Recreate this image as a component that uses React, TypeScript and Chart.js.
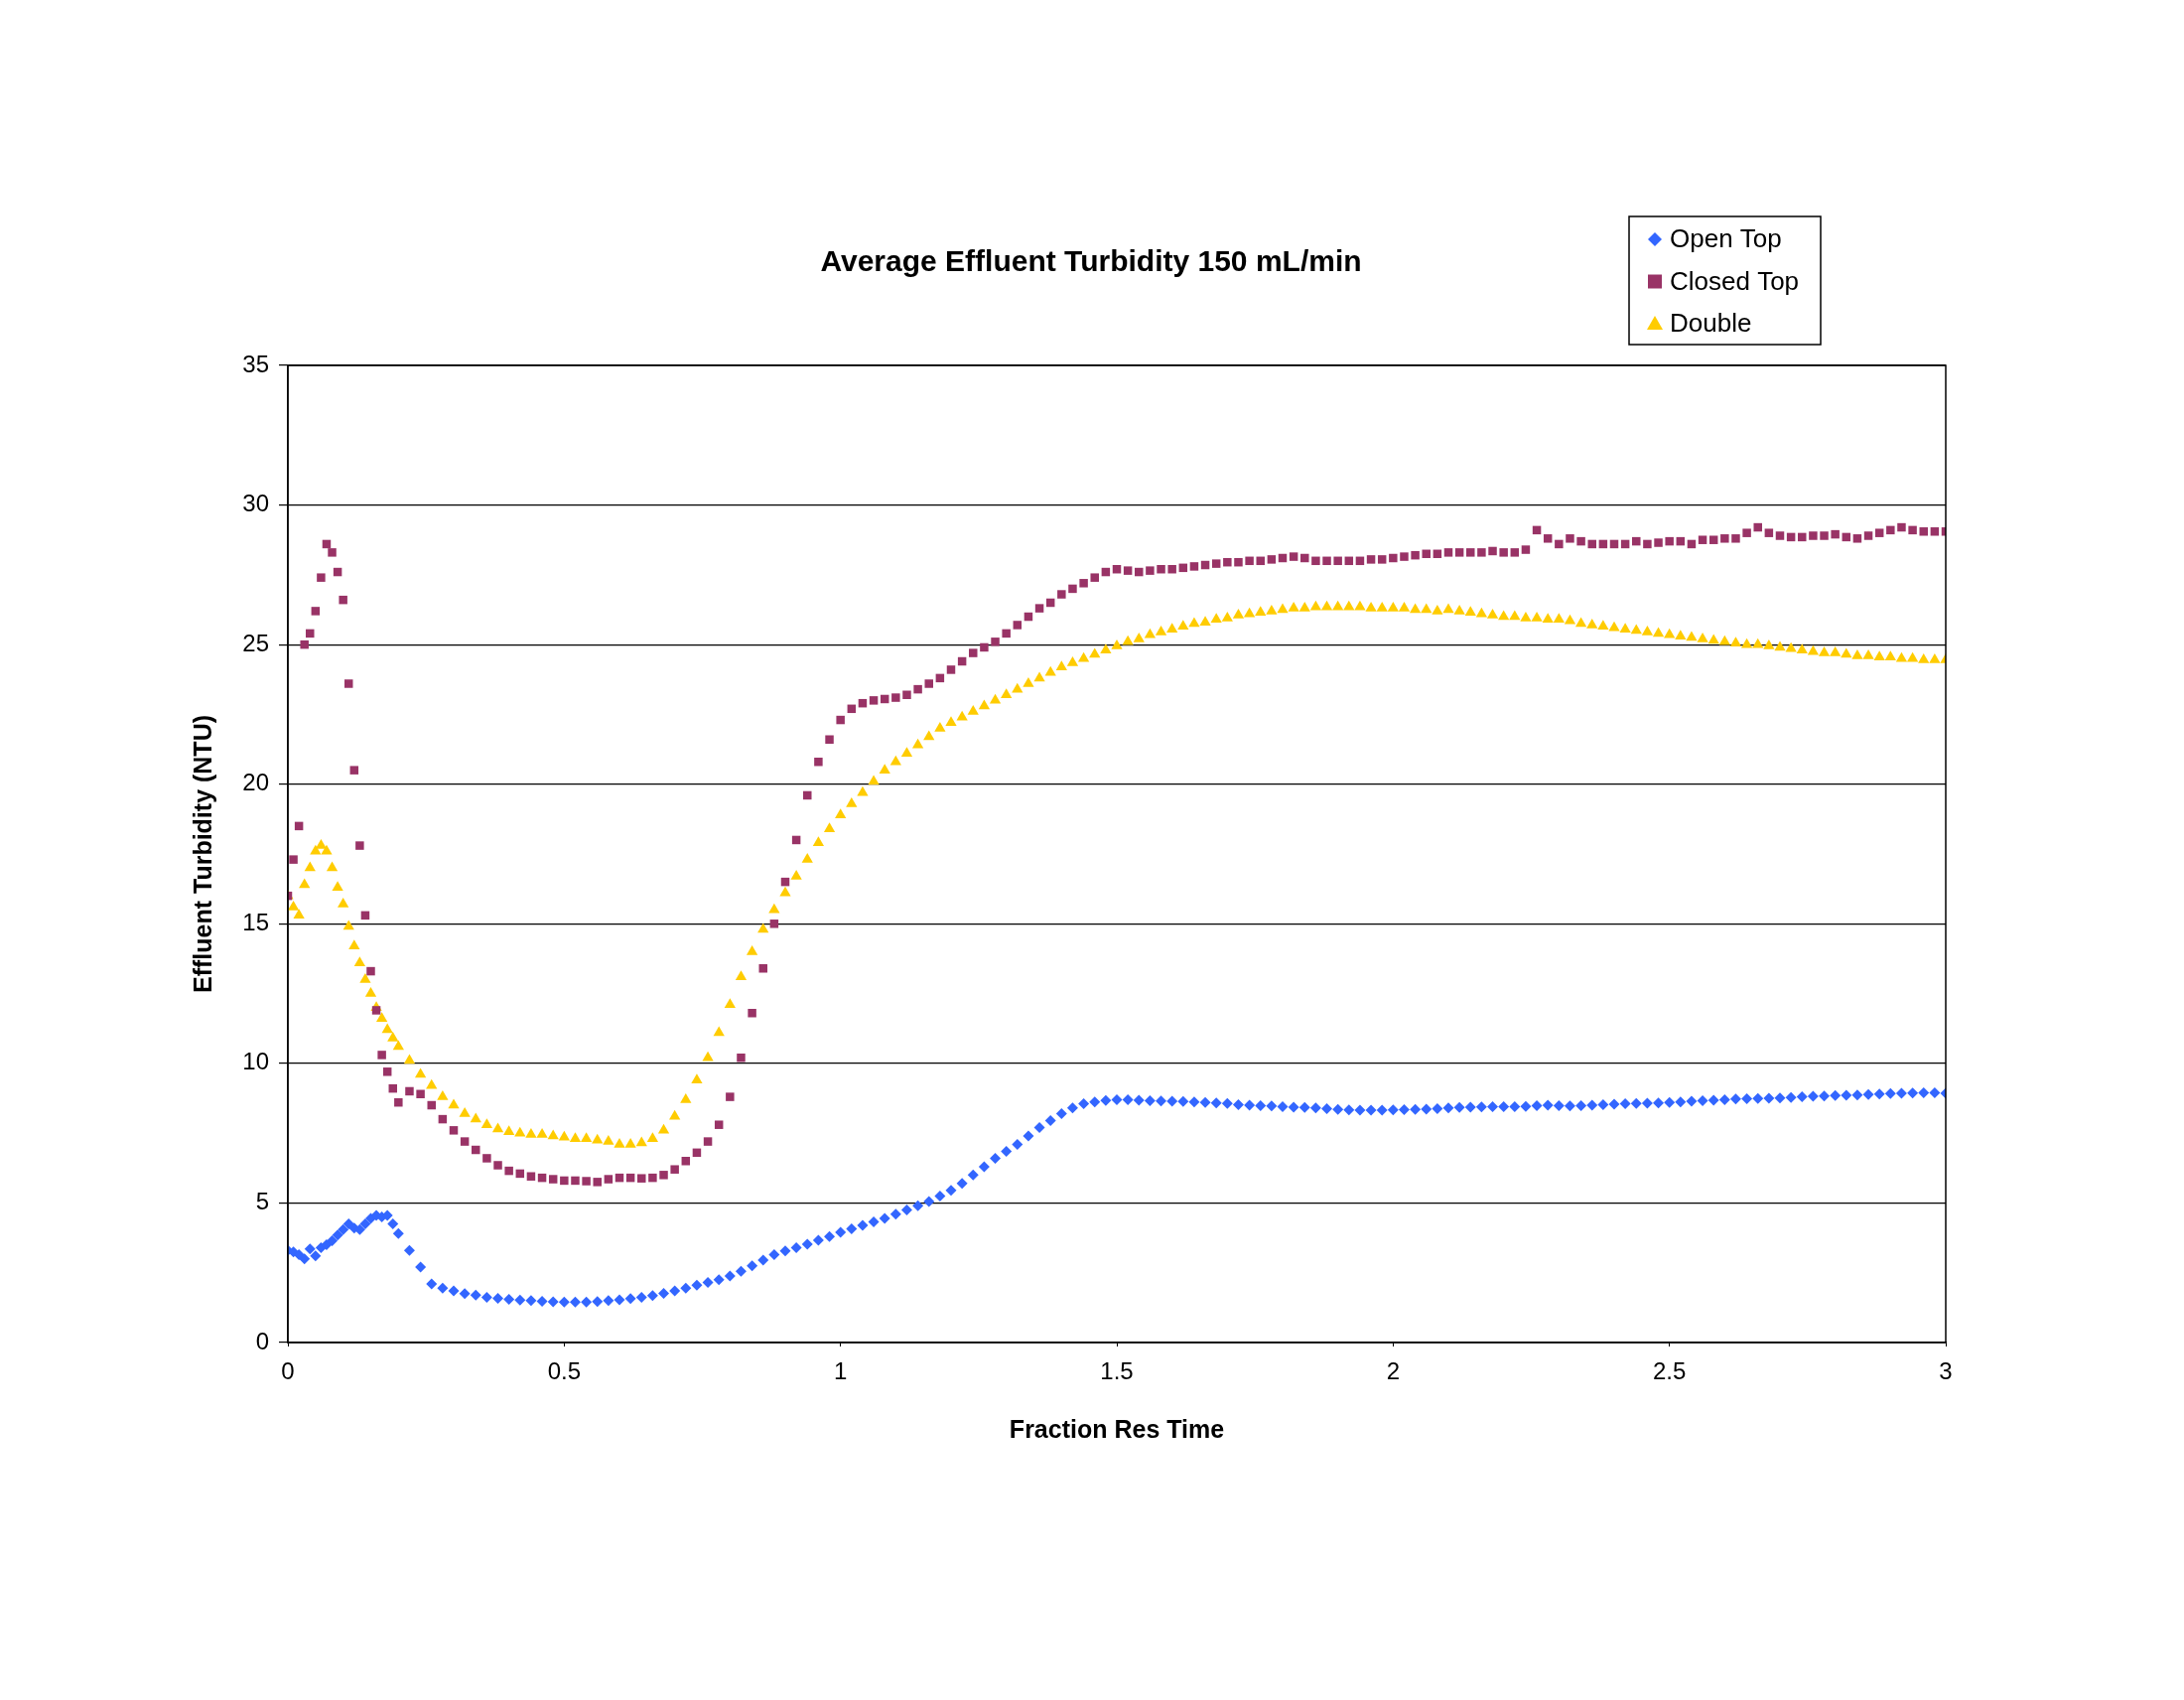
import React, { useEffect, useRef } from "react";
import { Chart, registerables } from "chart.js";
Chart.register(...registerables);

// x positions: 0..0.20 every 0.01, then every 0.02 to 3.00
const xEarly = [0,0.01,0.02,0.03,0.04,0.05,0.06,0.07,0.08,0.09,0.1,0.11,0.12,0.13,0.14,0.15,0.16,0.17,0.18,0.19,0.2];
const xLate: number[] = [];
for (let i = 11; i <= 150; i++) xLate.push(+(i * 0.02).toFixed(2));
const xValues = [...xEarly, ...xLate];

const openTop = [3.3,3.25,3.15,3.0,3.35,3.1,3.4,3.5,3.65,3.85,4.05,4.25,4.1,4.05,4.25,4.45,4.55,4.5,4.55,4.25,3.9,
3.3,2.7,2.1,1.95,1.85,1.75,1.7,1.62,1.58,1.55,
1.52,1.5,1.48,1.46,1.45,1.45,1.45,1.47,1.5,1.53,
1.57,1.62,1.68,1.76,1.85,1.95,2.05,2.15,2.25,2.38,
2.55,2.75,2.95,3.15,3.28,3.4,3.52,3.66,3.8,3.95,
4.07,4.2,4.32,4.45,4.6,4.75,4.9,5.05,5.25,5.45,
5.7,6.0,6.3,6.6,6.85,7.1,7.4,7.7,7.95,8.2,
8.4,8.55,8.62,8.67,8.7,8.7,8.68,8.66,8.65,8.64,
8.63,8.62,8.6,8.58,8.56,8.52,8.5,8.48,8.47,8.45,
8.43,8.42,8.4,8.38,8.35,8.33,8.32,8.32,8.32,8.33,
8.34,8.35,8.36,8.38,8.4,8.42,8.43,8.44,8.45,8.45,
8.45,8.46,8.48,8.5,8.48,8.47,8.48,8.5,8.52,8.54,
8.55,8.56,8.57,8.58,8.6,8.62,8.64,8.66,8.68,8.7,
8.72,8.73,8.74,8.75,8.76,8.78,8.8,8.82,8.83,8.85,
8.86,8.87,8.88,8.9,8.92,8.93,8.94,8.95,8.95,8.93];

const closedTop = [16.0,17.3,18.5,25.0,25.4,26.2,27.4,28.6,28.3,27.6,26.6,23.6,20.5,17.8,15.3,13.3,11.9,10.3,9.7,9.1,8.6,
9.0,8.9,8.5,8.0,7.6,7.2,6.9,6.6,6.35,6.15,
6.05,5.95,5.9,5.85,5.8,5.8,5.78,5.75,5.85,5.9,
5.9,5.88,5.9,6.0,6.2,6.5,6.8,7.2,7.8,8.8,
10.2,11.8,13.4,15.0,16.5,18.0,19.6,20.8,21.6,22.3,
22.7,22.9,23.0,23.05,23.1,23.2,23.4,23.6,23.8,24.1,
24.4,24.7,24.9,25.1,25.4,25.7,26.0,26.3,26.5,26.8,
27.0,27.2,27.4,27.6,27.7,27.65,27.6,27.65,27.7,27.7,
27.75,27.8,27.85,27.9,27.95,27.95,28.0,28.0,28.05,28.1,
28.15,28.1,28.0,28.0,28.0,28.0,28.0,28.05,28.05,28.1,
28.15,28.2,28.25,28.25,28.3,28.3,28.3,28.3,28.35,28.3,
28.3,28.4,29.1,28.8,28.6,28.8,28.7,28.6,28.6,28.6,
28.6,28.7,28.6,28.65,28.7,28.7,28.6,28.75,28.75,28.8,
28.8,29.0,29.2,29.0,28.9,28.85,28.85,28.9,28.9,28.95,
28.85,28.8,28.9,29.0,29.1,29.2,29.1,29.05,29.05,29.05];

const double = [16.0,15.6,15.3,16.4,17.0,17.6,17.8,17.6,17.0,16.3,15.7,14.9,14.2,13.6,13.0,12.5,12.0,11.6,11.2,10.9,10.6,
10.1,9.6,9.2,8.8,8.5,8.2,8.0,7.8,7.65,7.55,
7.5,7.45,7.45,7.4,7.35,7.3,7.3,7.25,7.2,7.1,
7.1,7.15,7.3,7.6,8.1,8.7,9.4,10.2,11.1,12.1,
13.1,14.0,14.8,15.5,16.1,16.7,17.3,17.9,18.4,18.9,
19.3,19.7,20.1,20.5,20.8,21.1,21.4,21.7,22.0,22.2,
22.4,22.6,22.8,23.0,23.2,23.4,23.6,23.8,24.0,24.2,
24.35,24.5,24.65,24.8,24.95,25.1,25.2,25.35,25.45,25.55,
25.65,25.75,25.8,25.9,25.95,26.05,26.1,26.15,26.2,26.25,
26.3,26.3,26.35,26.35,26.35,26.35,26.35,26.3,26.3,26.3,
26.3,26.25,26.25,26.2,26.25,26.2,26.15,26.1,26.05,26.0,
26.0,25.95,25.95,25.9,25.9,25.85,25.75,25.7,25.65,25.6,
25.55,25.5,25.45,25.4,25.35,25.3,25.25,25.2,25.15,25.1,
25.05,25.0,25.0,24.95,24.9,24.85,24.8,24.75,24.7,24.7,
24.65,24.6,24.6,24.55,24.55,24.5,24.5,24.45,24.45,24.45];

const seriesNames = ["Open Top", "Closed Top", "Double"];
const seriesColors = ["#3366FF", "#993366", "#FFCC00"];
const seriesShapes = ["rectRot", "rect", "triangle"];
const title = "Average Effluent Turbidity 150 mL/min";
const xTitle = "Fraction Res Time";
const yTitle = "Effluent Turbidity (NTU)";

const FONT = "'Liberation Sans', Arial, sans-serif";

export default function App() {
  const ref = useRef<HTMLCanvasElement>(null);
  useEffect(() => {
    const all = [openTop, closedTop, double];
    const radii = [5.5, 6, 6.5];
    const overlay = {
      id: "overlay",
      afterDraw(chart: any) {
        const ctx = chart.ctx;
        const a = chart.chartArea;
        ctx.save();
        ctx.strokeStyle = "#000";
        ctx.lineWidth = 1.5;
        ctx.strokeRect(a.left, a.top, a.right - a.left, a.bottom - a.top);
        ctx.fillStyle = "#000";
        ctx.textAlign = "center";
        ctx.textBaseline = "middle";
        ctx.font = `bold 30px ${FONT}`;
        ctx.fillText(title, 1099, 265);
        ctx.font = `bold 25px ${FONT}`;
        ctx.fillText(xTitle, (a.left + a.right) / 2, 1441);
        ctx.save();
        ctx.translate(206, (a.top + a.bottom) / 2);
        ctx.rotate(-Math.PI / 2);
        ctx.fillText(yTitle, 0, 0);
        ctx.restore();
        // legend
        ctx.lineWidth = 1.5;
        ctx.strokeRect(1641, 218, 193, 129);
        ctx.font = `26px ${FONT}`;
        ctx.textAlign = "left";
        seriesNames.forEach((n, i) => {
          const cy = 241 + i * 42.5;
          ctx.fillStyle = seriesColors[i];
          ctx.beginPath();
          const cx = 1667;
          if (i === 0) {
            ctx.moveTo(cx, cy - 7); ctx.lineTo(cx + 7, cy); ctx.lineTo(cx, cy + 7); ctx.lineTo(cx - 7, cy);
          } else if (i === 1) {
            ctx.rect(cx - 7, cy - 7, 14, 14);
          } else {
            ctx.moveTo(cx, cy - 8); ctx.lineTo(cx + 8, cy + 6); ctx.lineTo(cx - 8, cy + 6);
          }
          ctx.closePath();
          ctx.fill();
          ctx.fillStyle = "#000";
          ctx.fillText(n, 1682, cy + 1);
        });
        ctx.restore();
      },
    };
    const chart = new Chart(ref.current!, {
      type: "scatter",
      data: {
        datasets: all.map((arr, i) => ({
          label: seriesNames[i],
          data: arr.map((y, j) => ({ x: xValues[j], y })),
          backgroundColor: seriesColors[i],
          borderColor: seriesColors[i],
          borderWidth: 0,
          pointStyle: seriesShapes[i] as any,
          pointRadius: radii[i],
        })),
      },
      options: {
        animation: false,
        responsive: false,
        layout: { padding: { left: 0, top: 368, right: 240, bottom: 0 } },
        plugins: { legend: { display: false }, tooltip: { enabled: false }, title: { display: false } },
        scales: {
          x: {
            type: "linear",
            min: 0,
            max: 3,
            ticks: { stepSize: 0.5, color: "#000", font: { family: FONT, size: 24 }, padding: 12, callback: (v: any) => String(+v) },
            grid: { drawOnChartArea: false, color: "#000", tickLength: 4 },
            border: { color: "#000", width: 1.5 },
            afterFit: (s: any) => { s.height = 360; },
          },
          y: {
            min: 0,
            max: 35,
            ticks: { stepSize: 5, color: "#000", font: { family: FONT, size: 24 }, padding: 10 },
            grid: { color: "#000", lineWidth: 1.2, tickLength: 9 },
            border: { color: "#000", width: 1.5 },
            afterFit: (s: any) => { s.width = 290; },
          },
        },
      },
      plugins: [overlay],
    });
    return () => chart.destroy();
  }, []);
  return (
    <div style={{ position: "absolute", left: 0, top: 0, width: 2200, height: 1712, background: "#fff" }}>
      <canvas ref={ref} width={2200} height={1712} style={{ width: 2200, height: 1712 }} />
    </div>
  );
}
